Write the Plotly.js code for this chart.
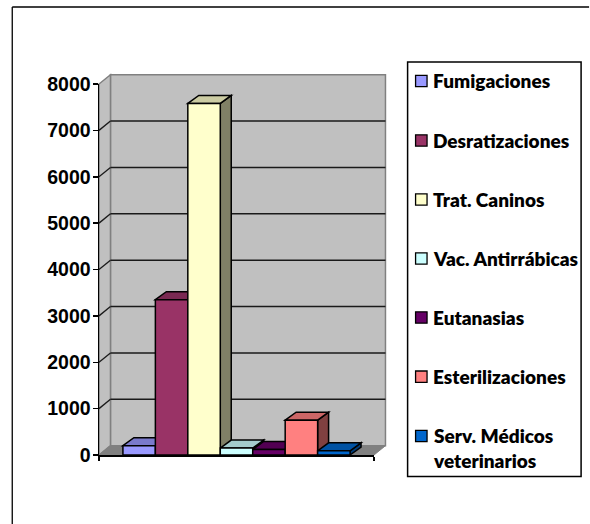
<!DOCTYPE html>
<html><head><meta charset="utf-8">
<script src="https://cdn.plot.ly/plotly-3.0.1.min.js"></script>
<style>html,body{margin:0;padding:0;background:#fff}#c{width:590px;height:524px}</style>
</head><body><div id="c"></div>
<script>
const names = ['Fumigaciones','Desratizaciones','Trat. Caninos','Vac. Antirrábicas','Eutanasias','Esterilizaciones','Serv. Médicos<br>veterinarios'];
const values = [200,3350,7580,150,120,750,90];
const frontColors = ['#9999ff','#993366','#ffffcc','#ccffff','#660066','#ff8080','#0066cc'];
const topColors = ['#7a7acc','#7a2952','#cccca3','#a3cccc','#520052','#cc6666','#0052a3'];
const sideColors = ['#5c5c99','#5c1f3d','#808066','#7a9999','#3d003d','#804040','#003d7a'];
const yTicks = [0,1000,2000,3000,4000,5000,6000,7000,8000];

const W=590,H=524,L=98.5,R=374.3,T=84,B=455;
const pw=R-L, ph=B-T, yMax=8000;
const bargap=0.174, n=values.length, bw=(1-bargap)/n;
const wdx=11.5/pw, wdy=9.3/ph;   // wall depth
const bdx=11/pw,  bdy=8/ph;      // bar depth
const poly=(pts,fill,line,lw)=>({type:'path',xref:'x domain',yref:'y domain',layer:'below',
  path:'M'+pts.map(p=>p[0]+','+p[1]).join('L')+'Z',fillcolor:fill,line:{color:line,width:lw}});
const seg=(x0,y0,x1,y1,c,w)=>({type:'line',xref:'x domain',yref:'y domain',layer:'below',x0,y0,x1,y1,line:{color:c,width:w}});
const shapes=[];
// walls and floor
shapes.push(poly([[wdx,wdy],[wdx,1+wdy],[1+wdx,1+wdy],[1+wdx,wdy]],'#c0c0c0','#808080',1.5));
shapes.push(poly([[0,0],[0,1],[wdx,1+wdy],[wdx,wdy]],'#c0c0c0','#808080',1.5));
shapes.push(poly([[0,0],[wdx,wdy],[1+wdx,wdy],[1,0]],'#808080','#808080',1));
// gridlines
yTicks.slice(1,-1).forEach(v=>{
  const f=v/yMax;
  shapes.push(seg(wdx,f+wdy,1+wdx,f+wdy,'#1a1a1a',1.5));
  shapes.push(seg(0,f,wdx,f+wdy,'#1a1a1a',1.3));
});
// bar depth faces, painted left to right
values.forEach((v,i)=>{
  const x0=bargap/2+i*bw,x1=x0+bw,f=v/yMax;
  shapes.push(poly([[x1,0],[x1+bdx,bdy],[x1+bdx,f+bdy],[x1,f]],sideColors[i],'#000',1.5));
  shapes.push(poly([[x0,f],[x0+bdx,f+bdy],[x1+bdx,f+bdy],[x1,f]],topColors[i],'#000',1.5));
});
// page coordinates of the legend, in the paper frame of the plot area
const toX=p=>(p-L)/pw,toY=p=>(B-p)/ph;
const ly=[81,140.5,199.5,258.5,317.5,376.7,436];
const annotations=[];
const box=(x0,x1,y0,y1,c,w,f)=>({type:'rect',xref:'paper',yref:'paper',layer:'below',x0:toX(x0),x1:toX(x1),y0:toY(y0),y1:toY(y1),line:{color:c,width:w},fillcolor:f});
const rule=(x0,y0,x1,y1)=>({type:'line',xref:'paper',yref:'paper',layer:'below',x0:toX(x0),x1:toX(x1),y0:toY(y0),y1:toY(y1),line:{color:'#000',width:1.3}});
// chart frame: only its top and left edges fall inside the picture
shapes.unshift(rule(11.5,7,590,7),rule(11.5,7,11.5,524));
shapes.push(box(408,582,62,476.5,'#000',1.5,'#fff'));
names.forEach((nm,i)=>{
  shapes.push(box(416,427.5,ly[i]-5.7,ly[i]+5.7,'#000',1.3,frontColors[i]));
  annotations.push({xref:'paper',yref:'paper',x:toX(432),y:toY(ly[i]-13),xanchor:'left',yanchor:'top',align:'left',showarrow:false,
    text:nm,borderpad:0,font:{family:'Lato, sans-serif',size:19,color:'#000',weight:800}});
});

const traces=names.map((nm,i)=>({type:'bar',name:nm.replace('<br>',' '),x:[0.5],y:[values[i]],
  marker:{color:frontColors[i],line:{color:'#000',width:1.5}},showlegend:false,hoverinfo:'skip'}));
const layout={width:W,height:H,paper_bgcolor:'#fff',plot_bgcolor:'rgba(0,0,0,0)',showlegend:false,
  margin:{l:L,r:W-R,t:T,b:H-B,pad:0},barmode:'group',bargap:bargap,bargroupgap:0,
  xaxis:{type:'linear',range:[0,1],tickvals:[0,1],ticks:'outside',ticklen:4,tickwidth:1.5,tickcolor:'#000',showticklabels:false,showgrid:false,zeroline:false,showline:true,linecolor:'#000',linewidth:1.5,fixedrange:true},
  yaxis:{range:[0,yMax],tickvals:yTicks,ticks:'outside',ticklen:5,tickwidth:1.5,tickcolor:'#000',ticklabelstandoff:-2,showgrid:false,zeroline:false,showline:true,linecolor:'#000',linewidth:1.5,fixedrange:true,
    tickfont:{family:'Liberation Sans, Arial, sans-serif',size:19.5,color:'#000',weight:'bold'}},
  shapes:shapes,annotations:annotations};
Plotly.newPlot('c',traces,layout,{staticPlot:true,displayModeBar:false});
</script></body></html>
